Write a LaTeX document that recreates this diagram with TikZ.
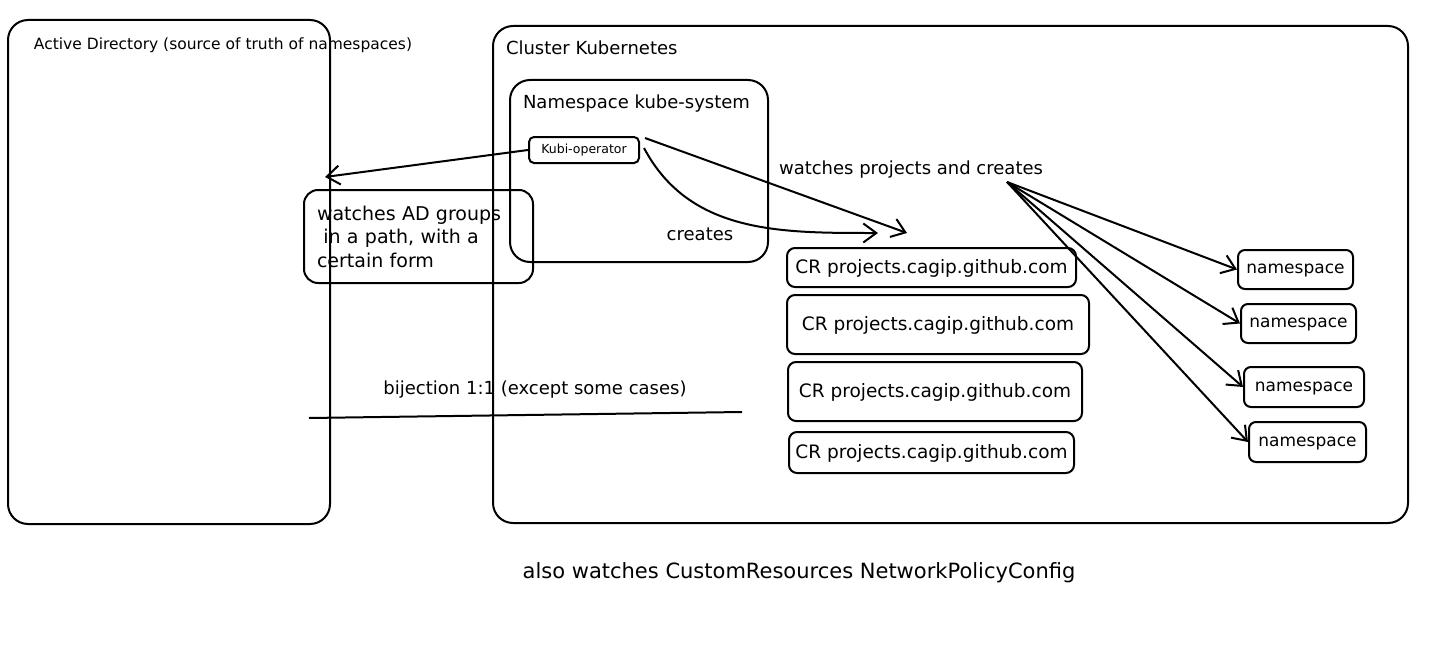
\documentclass[tikz,border=0pt]{standalone}
\usepackage{fontspec}
\setmainfont{DejaVu Sans}
\usetikzlibrary{arrows.meta}

\begin{document}
\begin{tikzpicture}[x=1pt,y=-1pt,line width=2pt,
		bigbox/.style={draw, rounded corners=20pt},
		box/.style={draw, rounded corners=8pt, text depth=0.25ex, font=\fontsize{18.5}{22}\selectfont},
		nsbox/.style={draw, rounded corners=7pt, text depth=0.1ex, font=\fontsize{17}{20}\selectfont},
		lbl/.style={inner sep=0pt, font=\fontsize{18}{22}\selectfont},
		arr/.style={-{Straight Barb[length=13pt,width=19pt,line width=2pt]}}]
		\useasboundingbox (0,0) rectangle (1436,661);

		\node (ad) [bigbox, minimum width=322, minimum height=504] at (169,272) {};
		\node (adlbl) [lbl, anchor=west, font=\fontsize{15.5}{18}\selectfont] at (33,45) {Active Directory (source of truth of namespaces)};

		\node (k8s) [bigbox, minimum width=915, minimum height=497] at (950.5,274.5) {};
		\node (k8slbl) [lbl, anchor=west] at (505,48) {Cluster Kubernetes};

		\node (kubesys) [bigbox, minimum width=258, minimum height=182] at (639,171) {};
		\node (kubesyslbl) [lbl, anchor=west] at (522,104) {Namespace kube-system};
		\node (kubi) [draw, rounded corners=5pt, minimum width=110, minimum height=26, inner sep=0pt, font=\fontsize{12.5}{15}\selectfont] at (584,150) {Kubi-operator};

		\node (adwatch) [draw, rounded corners=14pt, minimum width=229, minimum height=93, text width=203, inner xsep=13pt, align=left, font=\fontsize{19}{23.5}\selectfont] at (418.5,236.5) {watches AD groups\\~in a path, with a\\certain form};

		\node (cr1) [box, minimum width=289, minimum height=39] at (931.5,267.5) {CR projects.cagip.github.com};
		\node (cr2) [box, minimum width=302, minimum height=59] at (938,324.5) {CR projects.cagip.github.com};
		\node (cr3) [box, minimum width=294, minimum height=59] at (935,391.5) {CR projects.cagip.github.com};
		\node (cr4) [box, minimum width=285, minimum height=41] at (931.5,452.5) {CR projects.cagip.github.com};

		\node (ns1) [nsbox, minimum width=115, minimum height=39] at (1295.5,269.5) {namespace};
		\node (ns2) [nsbox, minimum width=115, minimum height=39] at (1298.5,323.5) {namespace};
		\node (ns3) [nsbox, minimum width=120, minimum height=40] at (1304,387) {namespace};
		\node (ns4) [nsbox, minimum width=117, minimum height=40] at (1307.5,442) {namespace};

		\coordinate (adgrp) at (325,177);
		\coordinate (watchtip) at (907,233);
		\coordinate (createtip) at (878,233);
		\coordinate (fan) at (1007,182);

		\draw[arr] (kubi.west) -- (adgrp);
		\draw[arr] (kubi.north east) ++(5,2) -- (watchtip);
		\draw[arr] (kubi.east) ++(4,-2) to[out=-62,in=180] (createtip);
		\node (createslbl) [lbl] at (700,234) {creates};
		\node (watchlbl) [lbl] at (911,170) {watches projects and creates};

		\draw[arr] (fan) -- (ns1.west);
		\draw[arr] (fan) -- (ns2.west);
		\draw[arr] (fan) -- (ns3.west);
		\draw[arr] (fan) -- (ns4.west);

		\node (bijlbl) [lbl] at (535,390) {bijection 1:1 (except some cases)};
		\coordinate (bijl) at (309,418);
		\coordinate (bijr) at (742,412);
		\draw (bijl) -- (bijr);

		\node (alsolbl) [lbl, font=\fontsize{21}{25}\selectfont] at (799,573) {also watches CustomResources NetworkPolicyConfig};
	\end{tikzpicture}
\end{document}
